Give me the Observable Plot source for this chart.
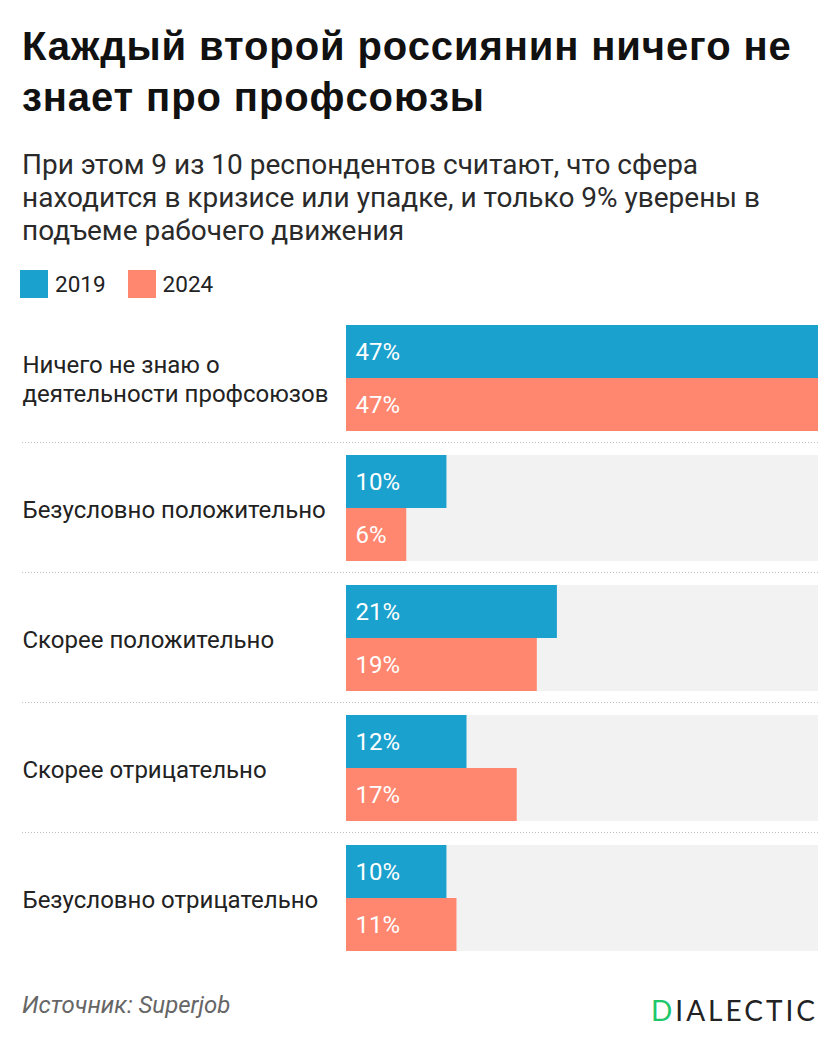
<!DOCTYPE html>
<html><head><meta charset="utf-8">
<script src="https://cdn.jsdelivr.net/npm/d3@7"></script>
<script src="https://cdn.jsdelivr.net/npm/@observablehq/plot@0.6"></script>
<style>
body{margin:0;background:#fff;width:840px;height:1049px;position:relative;overflow:hidden;font-family:Roboto,sans-serif;color:#222}
.abs{position:absolute}
#title{left:22px;top:21px;font:bold 40px/51px "Liberation Sans",Arial,sans-serif;letter-spacing:0.9px;color:#111;white-space:nowrap}
#subtitle{left:22px;top:148px;font:28px/33px Roboto,sans-serif;color:#2a2a2a;white-space:nowrap}
#legend{left:20px;top:270px;display:flex;align-items:center;font:22.5px/28px Roboto,sans-serif;color:#222}
.item{display:flex;align-items:center;margin-right:22px}
.sw{width:28px;height:28px;display:inline-block;margin-right:7px}
#chart{left:0;top:313px}
#source{left:22px;top:991px;font:italic 24px/28px Roboto,sans-serif;color:#666}
#logo{right:22px;top:994px;font:400 28px/1.2 Lato,sans-serif;letter-spacing:3px;color:#222}
#logo span{color:#1ec86a}
</style></head>
<body>
<div id="title" class="abs">Каждый второй россиянин ничего не<br>знает про профсоюзы</div>
<div id="subtitle" class="abs">При этом 9 из 10 респондентов считают, что сфера<br>находится в кризисе или упадке, и только 9% уверены в<br>подъеме рабочего движения</div>
<div id="legend" class="abs"></div>
<div id="chart" class="abs"></div>
<div id="source" class="abs">Источник: Superjob</div>
<div id="logo" class="abs"><span>D</span>IALECTIC</div>
<script>
const categories = ["Ничего не знаю о\nдеятельности профсоюзов", "Безусловно положительно", "Скорее положительно", "Скорее отрицательно", "Безусловно отрицательно"];
const years = ["2019", "2024"];
const values2019 = [47, 10, 21, 12, 10];
const values2024 = [47, 6, 19, 17, 11];
const colors = ["#1ba1ce", "#ff8770"];

const rows = categories.flatMap((c, i) => [
  {category: c, year: years[0], value: values2019[i]},
  {category: c, year: years[1], value: values2024[i]}
]);
const xMax = d3.max([...values2019, ...values2024]);

// legend
const legend = d3.select("#legend");
years.forEach((y, i) => {
  const it = legend.append("div").attr("class", "item");
  it.append("span").attr("class", "sw").style("background", colors[i]);
  it.append("span").text(y);
});

const chart = Plot.plot({
  width: 840, height: 650,
  marginLeft: 346, marginRight: 22, marginTop: 0, marginBottom: 0,
  style: {fontFamily: "Roboto, sans-serif", fontSize: "24px", color: "#222", background: "transparent", overflow: "visible"},
  x: {domain: [0, xMax], axis: null},
  y: {domain: years, padding: 0, axis: null},
  fy: {domain: categories, paddingInner: 22 / 130, paddingOuter: 11 / 130, axis: null, round: false},
  color: {domain: years, range: colors},
  marks: [
    Plot.barX(rows, {x1: 0, x2: xMax, y: "year", fy: "category", fill: "#f2f2f2"}),
    Plot.barX(rows, {x1: 0, x2: "value", y: "year", fy: "category", fill: "year"}),
    Plot.text(rows, {x: 0, y: "year", fy: "category", text: d => d.value + "%", textAnchor: "start", dx: 9, fill: "white", fontSize: 24}),
    Plot.text(categories, {fy: d => d, text: d => d, frameAnchor: "left", textAnchor: "start", dx: -324, fontSize: 24, lineHeight: 1.2, fill: "#222"})
  ]
});
document.getElementById("chart").appendChild(chart);

// dotted separators between groups, positioned from Plot's fy scale
try {
  const fyS = chart.scale("fy");
  const xS = chart.scale("x");
  const band = d3.scaleBand(fyS.domain, fyS.range)
    .paddingInner(fyS.paddingInner).paddingOuter(fyS.paddingOuter).align(fyS.align ?? 0.5);
  const gap = band.step() - band.bandwidth();
  const g = d3.select(chart).append("g");
  categories.slice(0, -1).forEach(c => {
    const y = band(c) + band.bandwidth() + gap / 2 - 0.5;
    g.append("line").attr("x1", 22).attr("x2", xS.range[1]).attr("y1", y).attr("y2", y)
      .attr("stroke", "#bdbdbd").attr("stroke-width", 1).attr("stroke-dasharray", "1,2");
  });
} catch (e) { console.error(e); }
</script>
</body></html>
